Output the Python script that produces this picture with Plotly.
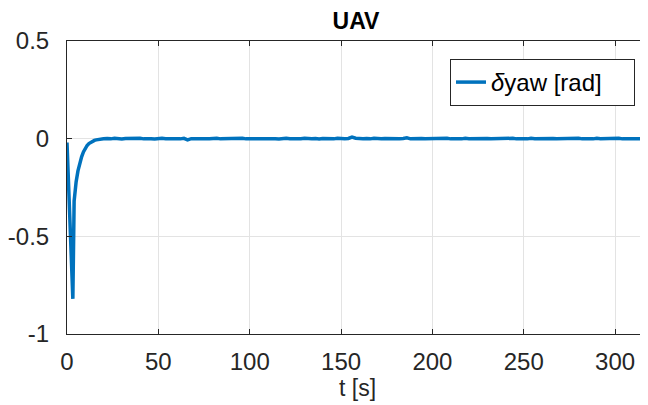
import plotly.graph_objects as go

# transient part
t_start = [0, 0.5, 1.0, 1.5, 2.0, 2.5, 3.0, 3.2, 3.9, 4.5, 5, 6, 7, 8, 9, 10, 11, 12, 13, 14, 15, 16, 17, 18, 19, 20]
y_start = [-0.02, -0.14, -0.27, -0.41, -0.54, -0.67, -0.79, -0.82, -0.32, -0.26, -0.22, -0.165, -0.125,
           -0.093, -0.068, -0.049, -0.035, -0.025, -0.018, -0.013, -0.009, -0.006, -0.004, -0.003, -0.002, -0.001]

# steady-state part, every 2 s from 22 to 318
t_steady = list(range(22, 320, 2))
y_steady = [
    0.001, -0.001, 0.002, 0.000, -0.002, 0.001, 0.002, -0.001, 0.000, 0.002,
    -0.001, 0.001, 0.000, -0.002, 0.001, 0.002, 0.000, -0.001, 0.001, 0.000,
    -0.001, 0.002, -0.006, 0.000, 0.001, -0.001, 0.002, 0.000, -0.001, 0.001,
    0.002, -0.001, 0.000, 0.001, -0.002, 0.001, 0.000, 0.002, -0.001, 0.000,
    0.001, -0.001, 0.002, 0.000, -0.001, 0.001, 0.000, -0.002, 0.001, 0.002,
    0.000, -0.001, 0.001, 0.000, 0.002, -0.001, 0.000, 0.001, -0.002, 0.001,
    0.000, 0.001, -0.001, 0.002, 0.000, -0.001, 0.001, 0.008, 0.002, -0.001,
    0.000, 0.001, -0.001, 0.002, 0.000, -0.001, 0.001, 0.000, 0.002, -0.001,
    0.000, 0.001, 0.004, -0.001, 0.000, 0.002, 0.001, -0.001, 0.000, 0.001,
    -0.002, 0.001, 0.000, 0.002, -0.001, 0.001, 0.000, -0.001, 0.002, 0.000,
    0.001, -0.001, 0.000, 0.002, 0.001, -0.001, 0.000, 0.001, -0.002, 0.001,
    0.000, 0.002, -0.001, 0.001, 0.000, -0.001, 0.002, 0.000, 0.001, -0.001,
    0.000, 0.002, 0.001, -0.001, 0.000, 0.001, -0.002, 0.001, 0.000, 0.002,
    -0.001, 0.001, 0.000, -0.001, 0.002, 0.000, 0.001, -0.001, 0.000, 0.001,
    0.002, -0.001, 0.000, 0.001, -0.001, 0.002, 0.000, -0.001, 0.001,
]

t = t_start + t_steady
y = y_start + y_steady[:len(t_steady)]

x_ticks = [0, 50, 100, 150, 200, 250, 300]
y_ticks = [-1, -0.5, 0, 0.5]
y_labels = ["-1", "-0.5", "0", "0.5"]
series_name = "<i>δ</i>yaw [rad]"

txt = "#262626"
font = "Liberation Sans, Arial, Helvetica, sans-serif"

# page body has an 8px default margin, so the figure is 8px smaller
W, H = 640, 397

fig = go.Figure()
fig.add_trace(go.Scatter(x=t, y=y, mode="lines", name=series_name + "\u00a0\u00a0\u00a0\u00a0",
                         line=dict(color="#0072BD", width=3.5)))

fig.update_layout(
    width=W, height=H,
    margin=dict(l=59, r=0, t=33, b=71),
    paper_bgcolor="white", plot_bgcolor="white",
    font=dict(family=font, size=24, color=txt),
    title=dict(text="<b>UAV</b>", x=(356 - 8) / W, xanchor="center",
               y=1 - 13 / H, yanchor="middle", yref="container",
               font=dict(size=23, color="black")),
    showlegend=True,
    legend=dict(x=0.9776, xanchor="right", y=0.9386, yanchor="top",
                bordercolor="#262626", borderwidth=1, bgcolor="white",
                font=dict(size=24, color="black"),
                tracegroupgap=0, itemwidth=30),
    xaxis=dict(range=[0, 318], tickvals=x_ticks, ticks="inside", ticklen=5,
               tickcolor=txt, showline=True, linecolor=txt, linewidth=1,
               mirror="ticks", showgrid=True, gridcolor="#e3e3e3", gridwidth=1,
               zeroline=False, title=dict(text="t [s]", standoff=5, font=dict(size=23, color=txt)),
               tickfont=dict(size=24, color=txt), ticklabelstandoff=6),
    yaxis=dict(range=[-1, 0.5], tickvals=y_ticks, ticktext=y_labels, ticks="inside",
               ticklen=5, tickcolor=txt, showline=True, linecolor=txt, linewidth=1,
               mirror=False, showgrid=True, gridcolor="#e3e3e3", gridwidth=1,
               zeroline=False, tickfont=dict(size=24, color=txt), ticklabelstandoff=12),
)

fig.write_html("out.html")
